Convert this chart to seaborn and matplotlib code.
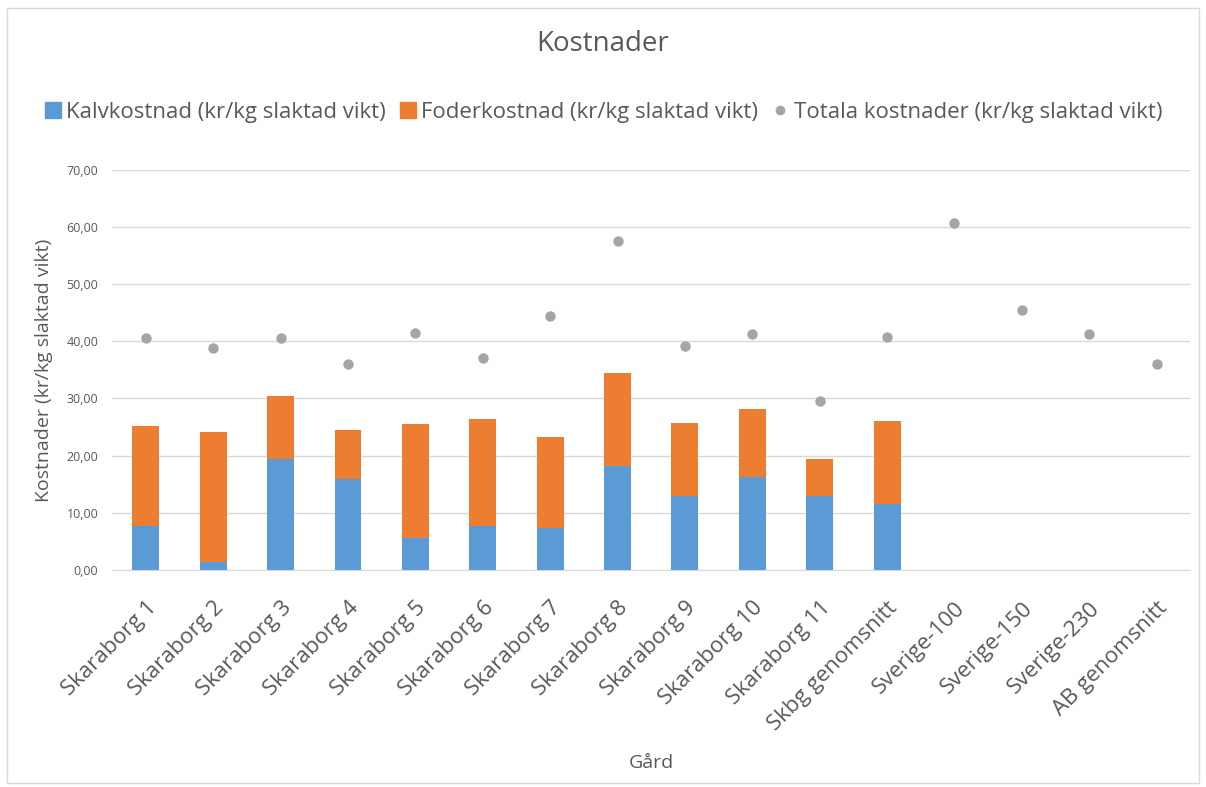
import matplotlib.pyplot as plt
import pandas as pd
import seaborn as sns
from matplotlib.lines import Line2D
from matplotlib.patches import Rectangle
from matplotlib.ticker import FuncFormatter

# Data
gardar = ['Skaraborg 1', 'Skaraborg 2', 'Skaraborg 3', 'Skaraborg 4', 'Skaraborg 5',
          'Skaraborg 6', 'Skaraborg 7', 'Skaraborg 8', 'Skaraborg 9', 'Skaraborg 10',
          'Skaraborg 11', 'Skbg genomsnitt', 'Sverige-100', 'Sverige-150',
          'Sverige-230', 'AB genomsnitt']
kalvkostnad = [7.7, 1.45, 19.4, 15.9, 5.5, 7.6, 7.4, 18.2, 13.0, 16.2, 13.0, 11.55,
               None, None, None, None]
foderkostnad = [17.5, 22.75, 11.0, 8.5, 20.0, 18.8, 15.9, 16.3, 12.7, 11.9, 6.4, 14.55,
                None, None, None, None]
totala = [40.6, 38.9, 40.6, 36.1, 41.5, 37.0, 44.5, 57.6, 39.1, 41.3, 29.5, 40.7,
          60.7, 45.4, 41.3, 36.1]

df = pd.DataFrame({'gard': gardar, 'kalv': kalvkostnad, 'foder': foderkostnad,
                   'totala': totala})
df['stapel'] = df['kalv'] + df['foder']

blue = '#5b9bd5'
orange = '#ed7d31'
grey = '#a5a5a5'
text_col = '#595959'

sns.set_style('white')
plt.rcParams['font.family'] = ['Open Sans', 'DejaVu Sans']

fig, ax = plt.subplots(figsize=(12.06, 7.87), dpi=100)
fig.subplots_adjust(left=0.093, right=0.987, top=0.784, bottom=0.276)

# stacked bars: total height in orange, calf cost drawn over it in blue
sns.barplot(data=df, x='gard', y='stapel', order=gardar, color=orange, width=0.4,
            saturation=1, linewidth=0, ax=ax)
sns.barplot(data=df, x='gard', y='kalv', order=gardar, color=blue, width=0.4,
            saturation=1, linewidth=0, ax=ax)
sns.stripplot(data=df, x='gard', y='totala', order=gardar, color=grey, jitter=False,
              size=7.5, linewidth=0, ax=ax, zorder=3)

ax.set_ylim(0, 70)
ax.set_yticks(range(0, 71, 10))
ax.yaxis.set_major_formatter(FuncFormatter(lambda v, p: f'{v:.2f}'.replace('.', ',')))
ax.grid(axis='y', color='#d9d9d9', linewidth=1)
ax.set_axisbelow(True)
for s in ['top', 'right', 'left']:
    ax.spines[s].set_visible(False)
ax.spines['bottom'].set_color('#d9d9d9')
ax.tick_params(axis='y', labelsize=9, colors=text_col, length=0, pad=10)
ax.tick_params(axis='x', labelsize=16, colors=text_col, length=0, pad=20)
plt.setp(ax.get_xticklabels(), rotation=45, ha='right', rotation_mode='anchor')

ax.set_xlabel('Gård', fontsize=14, color=text_col, labelpad=14)
ax.set_ylabel('Kostnader (kr/kg slaktad vikt)', fontsize=14, color=text_col, labelpad=10)
fig.suptitle('Kostnader', fontsize=20, color=text_col, y=0.962)

handles = [
    Line2D([], [], marker='s', linestyle='', color=blue, markersize=11),
    Line2D([], [], marker='s', linestyle='', color=orange, markersize=11),
    Line2D([], [], marker='o', linestyle='', color=grey, markersize=6),
]
labels = ['Kalvkostnad (kr/kg slaktad vikt)', 'Foderkostnad (kr/kg slaktad vikt)',
          'Totala kostnader (kr/kg slaktad vikt)']
leg = fig.legend(handles, labels, loc='center', bbox_to_anchor=(0.5, 0.857), ncol=3,
                 frameon=False, fontsize=16, handletextpad=0.2, columnspacing=0.6,
                 handlelength=0.8)
for t in leg.get_texts():
    t.set_color(text_col)

fig.patches.append(Rectangle((0.006, 0.005), 0.988, 0.985, transform=fig.transFigure,
                             fill=False, edgecolor='#d9d9d9', linewidth=1))

fig.savefig('out.png', dpi=100)
